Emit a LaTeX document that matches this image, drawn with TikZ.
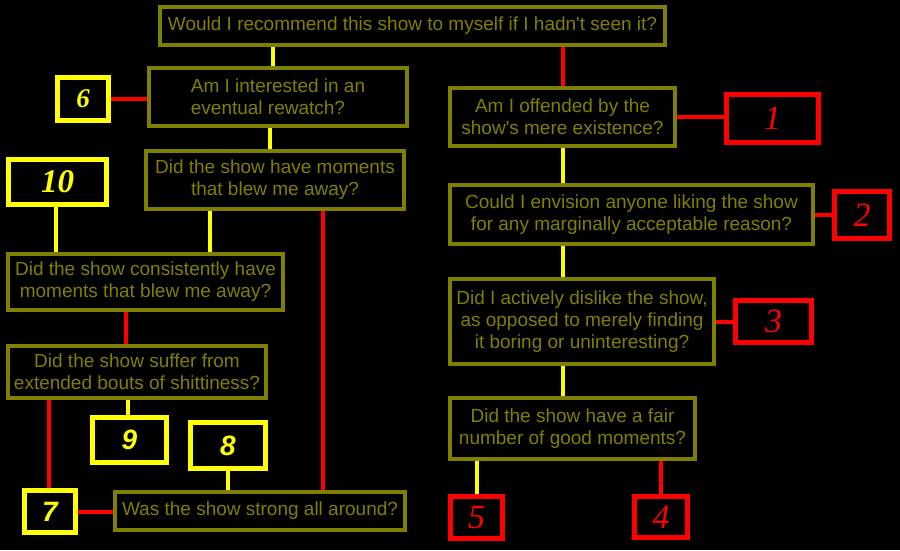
\documentclass[tikz,border=0pt]{standalone}
\usepackage{fontspec}
\setmainfont{Liberation Sans}
\newfontfamily\numserif{Liberation Serif}
\usetikzlibrary{calc,positioning}
\definecolor{olive}{rgb}{0.5,0.5,0}
\definecolor{hiyellow}{rgb}{1,1,0}
\definecolor{lored}{rgb}{1,0,0}
\tikzstyle{question}=[rectangle,draw=olive,line width=4pt,text=olive,inner
sep=2pt,align=center,font=\fontsize{19}{22}\selectfont]
\tikzstyle{score}=[rectangle,line width=5pt,inner sep=0pt]
\tikzstyle{highscore}=[score,draw=hiyellow,text=hiyellow,font=\bfseries\itshape\fontsize{28}{28}\selectfont]
\tikzstyle{lowscore}=[score,draw=lored,text=lored,font=\numserif\itshape\fontsize{34}{34}\selectfont]

\begin{document}
\begin{tikzpicture}[x=1pt,y=-1pt]
    \tikzstyle{yesline}=[draw=hiyellow,line width=4pt]
    \tikzstyle{noline}=[draw=lored,line width=4pt]

    \fill[black] (0,0) rectangle (900,550);
    \useasboundingbox (0,0) rectangle (900,550);

    % questions
    \node[question,minimum width=505pt,minimum height=38pt] (top) at (412.5,26)
      {Would I recommend this show to myself if I hadn\textquotesingle t seen it?};
    \node[question,align=left,minimum width=258pt,minimum height=58pt] (interest) at (278,97)
      {Am I interested in an \\ eventual rewatch?};
    \node[question,minimum width=258pt,minimum height=58pt] (moments) at (275,180)
      {Did the show have moments \\ that blew me away?};
    \node[question,minimum width=275pt,minimum height=56pt] (consistent) at (145.5,282)
      {Did the show consistently have \\ moments that blew me away?};
    \node[question,minimum width=258pt,minimum height=52pt] (shit) at (137,372)
      {Did the show suffer from \\ extended bouts of shittiness?};
    \node[question,minimum width=290pt,minimum height=38pt] (strong) at (260,511)
      {Was the show strong all around?};
    \node[question,minimum width=225pt,minimum height=58pt] (offended) at (562.5,117)
      {Am I offended by the \\ show\textquotesingle s mere existence?};
    \node[question,minimum width=363pt,minimum height=59pt] (envision) at (631.5,214.5)
      {Could I envision anyone liking the show \\ for any marginally acceptable reason?};
    \node[question,minimum width=264pt,minimum height=85pt] (dislike) at (582,321.5)
      {Did I actively dislike the show, \\ as opposed to merely finding \\ it boring or uninteresting?};
    \node[question,minimum width=245pt,minimum height=61pt] (fair) at (572.5,428.5)
      {Did the show have a fair \\ number of good moments?};

    % scores
    \node[highscore,minimum width=51pt,minimum height=43pt,font=\numserif\bfseries\itshape\fontsize{27}{27}\selectfont] (six) at (83,99) {6};
    \node[highscore,minimum width=51pt,minimum height=42pt] (seven) at (50,511.5) {7};
    \node[highscore,minimum width=75pt,minimum height=46pt] (eight) at (228,445.5) {8};
    \node[highscore,minimum width=74pt,minimum height=45pt] (nine) at (129.5,440) {9};
    \node[highscore,minimum width=98pt,minimum height=45pt,font=\numserif\bfseries\itshape\fontsize{33}{33}\selectfont] (ten) at (57.5,182) {10};
    \node[lowscore,minimum width=92pt,minimum height=48pt] (one) at (772.5,118.5) {1};
    \node[lowscore,minimum width=55pt,minimum height=47pt] (two) at (862,215) {2};
    \node[lowscore,minimum width=76pt,minimum height=42pt] (three) at (773.5,321.5) {3};
    \node[lowscore,minimum width=53pt,minimum height=41pt] (four) at (661,517) {4};
    \node[lowscore,minimum width=52pt,minimum height=42pt] (five) at (476.5,517.5) {5};

    % left branch
    \draw[yesline] ([xshift=-5pt]interest.north) -- ([xshift=-5pt]interest.north |- top.south);
    \draw[noline] (six.east) -- (six.east -| interest.west);
    \draw[yesline] ([xshift=-8pt]interest.south) -- ([xshift=-8pt]interest.south |- moments.north);
    \draw[yesline] ([xshift=66pt]moments.south west) -- ([xshift=66pt]moments.south west |- consistent.north);
    \draw[noline] ([xshift=-83pt]moments.south east) -- ([xshift=-83pt]moments.south east |- strong.north);
    \draw[yesline] ([xshift=-2pt]ten.south) -- ([xshift=-2pt]ten.south |- consistent.north);
    \draw[noline] ([xshift=-20pt]consistent.south) -- ([xshift=-20pt]consistent.south |- shit.north);
    \draw[yesline] ([xshift=-2pt]nine.north) -- ([xshift=-2pt]nine.north |- shit.south);
    \draw[noline] ([xshift=-1pt]seven.north) -- ([xshift=-1pt]seven.north |- shit.south);
    \draw[noline] (seven.east) -- (seven.east -| strong.west);
    \draw[yesline] (eight.south) -- (eight.south |- strong.north);

    % right branch
    \draw[noline] (offended.north) -- (offended.north |- top.south);
    \draw[noline] (offended.east) -- (offended.east -| one.west);
    \draw[yesline] (offended.south) -- (offended.south |- envision.north);
    \draw[noline] (envision.east) -- (envision.east -| two.west);
    \draw[yesline] (offended.south |- envision.south) -- (offended.south |- dislike.north);
    \draw[noline] (dislike.east) -- (dislike.east -| three.west);
    \draw[yesline] (offended.south |- dislike.south) -- (offended.south |- fair.north);
    \draw[yesline] (five.north) -- (five.north |- fair.south);
    \draw[noline] (four.north) -- (four.north |- fair.south);
\end{tikzpicture}
\end{document}
